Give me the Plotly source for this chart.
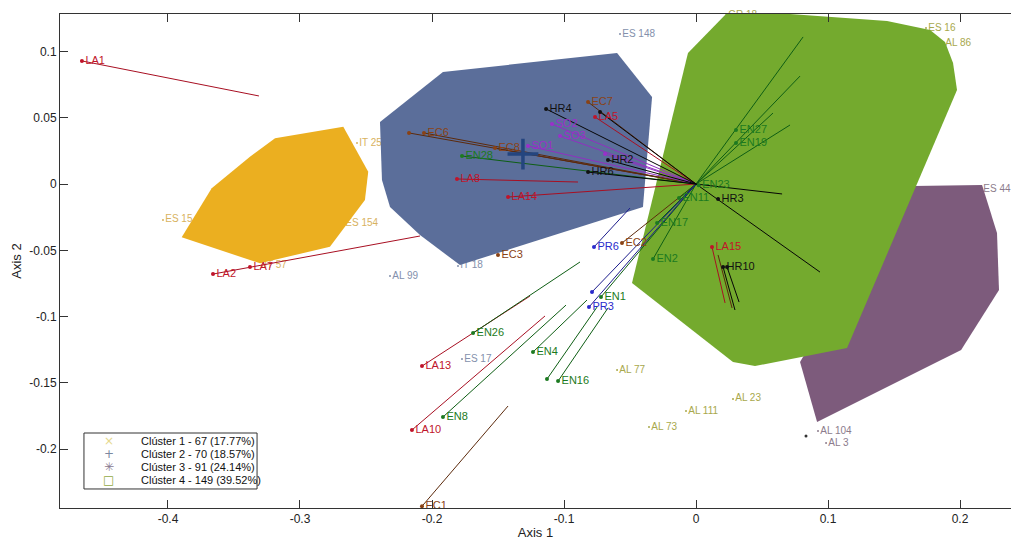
import plotly.graph_objects as go

# ---------------- data (Axis 1 / Axis 2 coordinates) ----------------
# cluster hull polygons
c1_hull_x = [-0.3896, -0.3669, -0.3379, -0.3189, -0.2672, -0.2483, -0.2508, -0.2773, -0.3303]
c1_hull_y = [-0.0402, -0.0032, 0.0206, 0.0345, 0.0432, 0.0093, -0.0121, -0.0473, -0.0598]
c2_hull_x = [-0.2394, -0.1917, -0.0598, -0.0333, -0.0402, -0.1788, -0.2091, -0.2318, -0.2379]
c2_hull_y = [0.0468, 0.0845, 0.0988, 0.0656, -0.0173, -0.0611, -0.0385, -0.0173, 0.0030]
c3_hull_x = [0.1644, 0.2167, 0.2280, 0.2295, 0.2008, 0.0917, 0.0788, 0.1242]
c3_hull_y = [-0.0015, -0.0008, -0.0370, -0.0799, -0.1252, -0.1795, -0.1342, -0.0573]
c4_hull_x = [0.0235, 0.0712, 0.1447, 0.1773, 0.1886, 0.1947, 0.1977, 0.1144, 0.0447, 0.0280, -0.0485, -0.0061]
c4_hull_y = [0.1290, 0.1282, 0.1229, 0.1161, 0.1071, 0.0913, 0.0709, -0.1237, -0.1373, -0.1342, -0.0747, 0.0988]

# cluster member labels
c1_names = ["IT 25", "ES 15", "ES 154", "IT 57"]
c1_x = [-0.2568, -0.4038, -0.2674, -0.3288]
c1_y = [0.0309, -0.0271, -0.0294, -0.0618]
c2_names = ["AL 99", "IT 18", "ES 148", "ES 17"]
c2_x = [-0.2318, -0.1803, -0.0576, -0.1773]
c2_y = [-0.0694, -0.0618, 0.1131, -0.1320]
c3_names = ["ES 44", "AL 104", "AL 3"]
c3_x = [0.2159, 0.0924, 0.0985]
c3_y = [-0.0038, -0.1863, -0.1953]
c4_names = ["GR 18", "ES 16", "AL 86", "AL 77", "AL 23", "AL 111", "AL 73"]
c4_x = [0.0227, 0.1742, 0.1871, -0.0598, 0.0280, -0.0076, -0.0356]
c4_y = [0.1272, 0.1176, 0.1063, -0.1403, -0.1621, -0.1712, -0.1833]
extra_dot_x = [0.0833]
extra_dot_y = [-0.1900]

# cluster 2 centroid
c2_centroid_x = [-0.1311]
c2_centroid_y = [0.0226]

# labelled variables (points)
la_names = ["LA1", "LA2", "LA7", "LA8", "LA14", "LA5", "LA13", "LA10", "LA15"]
la_x = [-0.4652, -0.3659, -0.3379, -0.1811, -0.1424, -0.0765, -0.2076, -0.2152, 0.0121]
la_y = [0.0928, -0.0679, -0.0626, 0.0038, -0.0098, 0.0505, -0.1373, -0.1855, -0.0475]
ec_names = ["", "EC6", "EC8", "EC7", "EC3", "EC2", "EC1"]
ec_x = [-0.2174, -0.2061, -0.1523, -0.0818, -0.1500, -0.0561, -0.2076]
ec_y = [0.0385, 0.0385, 0.0271, 0.0618, -0.0535, -0.0445, -0.2430]
hr_names = ["HR4", "", "HR2", "HR6", "HR3", "HR10", ""]
hr_x = [-0.1136, -0.0727, -0.0667, -0.0818, 0.0167, 0.0205, 0.0235]
hr_y = [0.0566, 0.0543, 0.0181, 0.0090, -0.0113, -0.0626, -0.0626]
so_names = ["SO1", "SO2", "SO3", ""]
so_x = [-0.1273, -0.1091, -0.1030, -0.0689]
so_y = [0.0287, 0.0452, 0.0362, 0.0226]
en_names = ["EN28", "EN27", "EN19", "EN23", "EN11", "EN17", "EN2", "EN1", "EN26", "EN4", "EN16", "", "EN8"]
en_x = [-0.1773, 0.0303, 0.0303, 0.0020, -0.0129, -0.0295, -0.0326, -0.0720, -0.1689, -0.1235, -0.1045, -0.1129, -0.1917]
en_y = [0.0211, 0.0407, 0.0309, -0.0010, -0.0106, -0.0294, -0.0566, -0.0852, -0.1124, -0.1267, -0.1486, -0.1471, -0.1757]
pr_names = ["PR6", "PR3", ""]
pr_x = [-0.0773, -0.0811, -0.0788]
pr_y = [-0.0475, -0.0928, -0.0814]

# line segments (start -> end)
la_seg_x0 = [-0.4652, -0.3659, -0.1811, -0.1424, -0.0765, -0.2076, -0.2152, 0.0121]
la_seg_y0 = [0.0928, -0.0679, 0.0038, -0.0098, 0.0505, -0.1373, -0.1855, -0.0475]
la_seg_x1 = [-0.3311, -0.2091, -0.0894, 0.0, 0.0, -0.1258, -0.1144, 0.0220]
la_seg_y1 = [0.0664, -0.0392, 0.0015, 0.0, 0.0, -0.0845, -0.0995, -0.0897]
ec_seg_x0 = [-0.2174, -0.2061, -0.1523, -0.0818, -0.0561, -0.2076, 0.0167]
ec_seg_y0 = [0.0385, 0.0385, 0.0271, 0.0618, -0.0445, -0.2430, -0.0535]
ec_seg_x1 = [0.0, 0.0, 0.0, 0.0, 0.0, -0.1424, 0.0273]
ec_seg_y1 = [0.0, 0.0, 0.0, 0.0, 0.0, -0.1674, -0.0935]
hr_seg_x0 = [-0.1136, -0.0727, -0.0667, -0.0818, 0.0, 0.0, 0.0205, 0.0235]
hr_seg_y0 = [0.0566, 0.0543, 0.0181, 0.0090, 0.0, 0.0, -0.0626, -0.0626]
hr_seg_x1 = [0.0, 0.0, 0.0, 0.0, 0.0939, 0.0652, 0.0295, 0.0326]
hr_seg_y1 = [0.0, 0.0, 0.0, 0.0, -0.0664, -0.0075, -0.0950, -0.0890]
so_seg_x0 = [-0.1273, -0.1091, -0.1030, -0.0689]
so_seg_y0 = [0.0287, 0.0452, 0.0362, 0.0226]
so_seg_x1 = [0.0, 0.0, 0.0, 0.0]
so_seg_y1 = [0.0, 0.0, 0.0, 0.0]
en_seg_x0 = [-0.1773, 0.0, 0.0, 0.0, 0.0, -0.0129, -0.0295, -0.0326, -0.0720, -0.1689, -0.1235, -0.1045, -0.1129, -0.1917]
en_seg_y0 = [0.0211, 0.0, 0.0, 0.0, 0.0, -0.0106, -0.0294, -0.0566, -0.0852, -0.1124, -0.1267, -0.1486, -0.1471, -0.1757]
en_seg_x1 = [0.0, 0.0811, 0.0788, 0.0712, 0.0583, 0.0, 0.0, 0.0, 0.0, -0.0879, -0.0826, -0.0667, -0.0750, -0.0985]
en_seg_y1 = [0.0, 0.1109, 0.0814, 0.0445, 0.0535, 0.0, 0.0, 0.0, 0.0, -0.0588, -0.0875, -0.0935, -0.0928, -0.0913]
pr_seg_x0 = [-0.0773, -0.0811, -0.0788]
pr_seg_y0 = [-0.0475, -0.0928, -0.0814]
pr_seg_x1 = [-0.0500, 0.0, 0.0]
pr_seg_y1 = [-0.0181, 0.0, 0.0]

legend_labels = ["Clúster 1 - 67 (17.77%)", "Clúster 2 - 70 (18.57%)",
                 "Clúster 3 - 91 (24.14%)", "Clúster 4 - 149 (39.52%)"]
legend_symbols = ["×", "+", "✳", "□"]
legend_colors = ["#E6D88C", "#7C88A0", "#8A7A90", "#93AA44"]

FONT = "Liberation Sans, Arial, sans-serif"

fig = go.Figure()

# cluster member labels (drawn first, polygons may cover some)
for names, xs, ys, col in [(c1_names, c1_x, c1_y, "#D8B25E"),
                            (c2_names, c2_x, c2_y, "#8390AC"),
                            (c3_names, c3_x, c3_y, "#8C7C8C"),
                            (c4_names, c4_x, c4_y, "#A8A84C")]:
    fig.add_trace(go.Scatter(x=xs, y=ys, mode="markers+text", text=names,
                             textposition="middle right", cliponaxis=False,
                             marker=dict(size=2, color=col),
                             textfont=dict(family=FONT, size=10, color=col),
                             hoverinfo="skip", showlegend=False))
fig.add_trace(go.Scatter(x=extra_dot_x, y=extra_dot_y, mode="markers",
                         marker=dict(size=3, color="#333333"), showlegend=False, hoverinfo="skip"))

# hull polygons
for hx, hy, col in [(c1_hull_x, c1_hull_y, "#EBAF20"),
                    (c2_hull_x, c2_hull_y, "#5B6E9A"),
                    (c3_hull_x, c3_hull_y, "#7D5B7C"),
                    (c4_hull_x, c4_hull_y, "#74AA2E")]:
    fig.add_trace(go.Scatter(x=hx + [hx[0]], y=hy + [hy[0]], mode="lines", fill="toself",
                             fillcolor=col, line=dict(width=0, color=col),
                             hoverinfo="skip", showlegend=False))


def seg_trace(x0, y0, x1, y1, col):
    xs, ys = [], []
    for a, b, c, d in zip(x0, y0, x1, y1):
        xs += [a, c, None]
        ys += [b, d, None]
    return go.Scatter(x=xs, y=ys, mode="lines", line=dict(width=1, color=col),
                      hoverinfo="skip", showlegend=False)


fig.add_trace(seg_trace(la_seg_x0, la_seg_y0, la_seg_x1, la_seg_y1, "#A80F22"))
fig.add_trace(seg_trace(ec_seg_x0, ec_seg_y0, ec_seg_x1, ec_seg_y1, "#5C2A0C"))
fig.add_trace(seg_trace(so_seg_x0, so_seg_y0, so_seg_x1, so_seg_y1, "#9030C0"))
fig.add_trace(seg_trace(en_seg_x0, en_seg_y0, en_seg_x1, en_seg_y1, "#0E5E14"))
fig.add_trace(seg_trace(pr_seg_x0, pr_seg_y0, pr_seg_x1, pr_seg_y1, "#1C1C8C"))
fig.add_trace(seg_trace(hr_seg_x0, hr_seg_y0, hr_seg_x1, hr_seg_y1, "#050505"))

# centroid of cluster 2 (on top of the lines)
fig.add_trace(go.Scatter(x=c2_centroid_x, y=c2_centroid_y, mode="markers",
                         marker=dict(symbol="cross-thin", size=22, color="#24457F",
                                     line=dict(width=3.5, color="#24457F")),
                         hoverinfo="skip", showlegend=False))

for names, xs, ys, col in [(la_names, la_x, la_y, "#C0142A"),
                            (ec_names, ec_x, ec_y, "#8A4214"),
                            (hr_names, hr_x, hr_y, "#111111"),
                            (so_names, so_x, so_y, "#9B2FCB"),
                            (en_names, en_x, en_y, "#1C7A20"),
                            (pr_names, pr_x, pr_y, "#2A2ACC")]:
    fig.add_trace(go.Scatter(x=xs, y=ys, mode="markers+text", text=names,
                             textposition="middle right", cliponaxis=False,
                             marker=dict(size=4, color=col),
                             textfont=dict(family=FONT, size=11, color=col),
                             hoverinfo="skip", showlegend=False))

# legend box (manual, like the original)
shapes = [dict(type="rect", xref="paper", yref="paper", x0=0.0252, x1=0.2072,
               y0=0.0385, y1=0.1518, line=dict(color="#333333", width=1),
               fillcolor="white", layer="above")]
annotations = []
rows_y = [0.1356, 0.1093, 0.0830, 0.0567]
for lab, sym, col, yy in zip(legend_labels, legend_symbols, legend_colors, rows_y):
    annotations.append(dict(xref="paper", yref="paper", x=0.0515, y=yy, text=sym,
                            showarrow=False, font=dict(family="DejaVu Sans", size=12, color=col),
                            xanchor="center", yanchor="middle"))
    annotations.append(dict(xref="paper", yref="paper", x=0.0831, y=yy, text=lab,
                            showarrow=False, font=dict(family=FONT, size=11, color="#111111"),
                            xanchor="left", yanchor="middle"))

fig.update_layout(
    width=1011, height=541,
    margin=dict(l=60, r=0, t=14, b=33),
    paper_bgcolor="white", plot_bgcolor="white",
    font=dict(family=FONT, size=12, color="#222222"),
    shapes=shapes, annotations=annotations,
    xaxis=dict(range=[-0.4818, 0.2386], tickvals=[-0.4, -0.3, -0.2, -0.1, 0, 0.1, 0.2],
               ticktext=["-0.4", "-0.3", "-0.2", "-0.1", "0", "0.1", "0.2"],
               showgrid=False, zeroline=False, showline=True, linecolor="#333333",
               linewidth=1, mirror="ticks", ticks="inside", ticklen=8,
               tickcolor="#333333", title=dict(text="Axis 1", standoff=2,
                                               font=dict(size=13))),
    yaxis=dict(range=[-0.2443, 0.1282],
               tickvals=[-0.2, -0.15, -0.1, -0.05, 0, 0.05, 0.1],
               ticktext=["-0.2", "-0.15", "-0.1", "-0.05", "0", "0.05", "0.1"],
               showgrid=False, zeroline=False, showline=True, linecolor="#333333",
               linewidth=1, ticks="inside", ticklen=8, tickcolor="#333333",
               title=dict(text="Axis 2", standoff=4, font=dict(size=13))),
)

fig.write_html("out.html", config={"displayModeBar": False},
               post_script="document.body.style.margin='0px';document.body.style.overflow='hidden';")
